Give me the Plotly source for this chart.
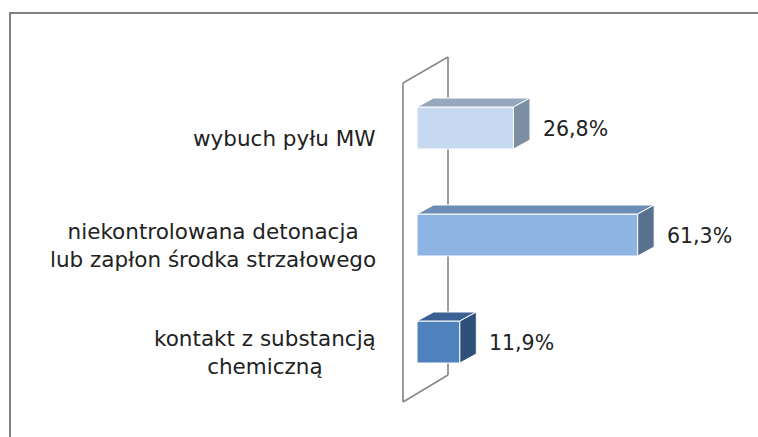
import plotly.graph_objects as go

# ---- data ----
categories = ["wybuch pyłu MW",
              "niekontrolowana detonacja<br>lub zapłon środka strzałowego",
              "kontakt z substancją<br>chemiczną"]
values = [26.8, 61.3, 11.9]
value_labels = ["26,8%", "61,3%", "11,9%"]

# ---- styles ----
front_colors = ["#C6D9F1", "#8DB4E2", "#4F81BD"]
top_colors = ["#97A8BE", "#6C8DB6", "#3B6194"]
side_colors = ["#7D8FA3", "#58718F", "#2F507A"]

W, H = 758, 437
PX_PER_UNIT = 3.6          # horizontal scale (px per %)
ZERO_PX = 417              # pixel position of 0 %
ROW_PX = 107               # px between categories
FIRST_ROW_PX = 128         # pixel of first category centre
BAR_W = 42 / ROW_PX
DX = 16.5 / PX_PER_UNIT    # depth offset (x)
DY = 9 / ROW_PX            # depth offset (y, upwards)

def px2x(px):
    return (px - ZERO_PX) / PX_PER_UNIT

def py2y(py):
    return (py - FIRST_ROW_PX) / ROW_PX

ypos = list(range(len(categories)))

fig = go.Figure()

# back wall (decoration)
wall_col = "#8A8A8A"
wf, wb = px2x(403), px2x(448)
wall = [
    (wf, py2y(83), wf, py2y(402)),
    (wb, py2y(57), wb, py2y(375)),
    (wf, py2y(83), wb, py2y(57)),
    (wf, py2y(402), wb, py2y(375)),
]
shapes = []
for x0, y0, x1, y1 in wall:
    shapes.append(dict(type="line", xref="x", yref="y", x0=x0, y0=y0, x1=x1, y1=y1,
                       line=dict(color=wall_col, width=1.7), layer="below"))

# outer frame
shapes.append(dict(type="rect", xref="paper", yref="paper",
                   x0=10 / W, x1=1.05, y0=-0.05, y1=1 - 13 / H,
                   line=dict(color="#808080", width=2), layer="below"))

# front faces
fig.add_trace(go.Bar(
    x=values, y=ypos, orientation="h", width=BAR_W,
    marker=dict(color=front_colors, line=dict(color="white", width=1)),
    hoverinfo="skip", showlegend=False))

# 3D faces derived from the values
for v, y, tc, sc in zip(values, ypos, top_colors, side_colors):
    top = y - BAR_W / 2
    bot = y + BAR_W / 2
    fig.add_trace(go.Scatter(
        x=[0, v, v + DX, DX, 0], y=[top, top, top - DY, top - DY, top],
        fill="toself", fillcolor=tc, mode="lines",
        line=dict(color="white", width=1), hoverinfo="skip", showlegend=False))
    fig.add_trace(go.Scatter(
        x=[v, v + DX, v + DX, v, v], y=[top, top - DY, bot - DY, bot, top],
        fill="toself", fillcolor=sc, mode="lines",
        line=dict(color="white", width=1), hoverinfo="skip", showlegend=False))

annotations = []
font_val = dict(family="DejaVu Sans", size=20.5, color="#222222")
font_cat = dict(family="DejaVu Sans", size=21.5, color="#222222")
for v, y, lab in zip(values, ypos, value_labels):
    annotations.append(dict(x=v + DX, y=y - DY / 2 + 0.02, xref="x", yref="y", text=lab,
                            showarrow=False, xanchor="left", yanchor="middle",
                            xshift=11, yshift=-3, font=font_val))
for y, cat in zip(ypos, categories):
    annotations.append(dict(x=378 / W, y=y, xref="paper", yref="y", text=cat,
                            showarrow=False, xanchor="right", yanchor="middle",
                            align="center", yshift=-10, font=font_cat))

fig.update_layout(
    width=W, height=H,
    margin=dict(l=0, r=0, t=0, b=0),
    paper_bgcolor="white", plot_bgcolor="white",
    xaxis=dict(range=[px2x(0), px2x(W)], visible=False, fixedrange=True),
    yaxis=dict(range=[py2y(H), py2y(0)], visible=False, fixedrange=True),
    shapes=shapes, annotations=annotations,
    showlegend=False,
)

fig.write_html("out.html", config={"displayModeBar": False},
               post_script="document.body.style.margin='0';document.body.style.overflow='hidden';")
